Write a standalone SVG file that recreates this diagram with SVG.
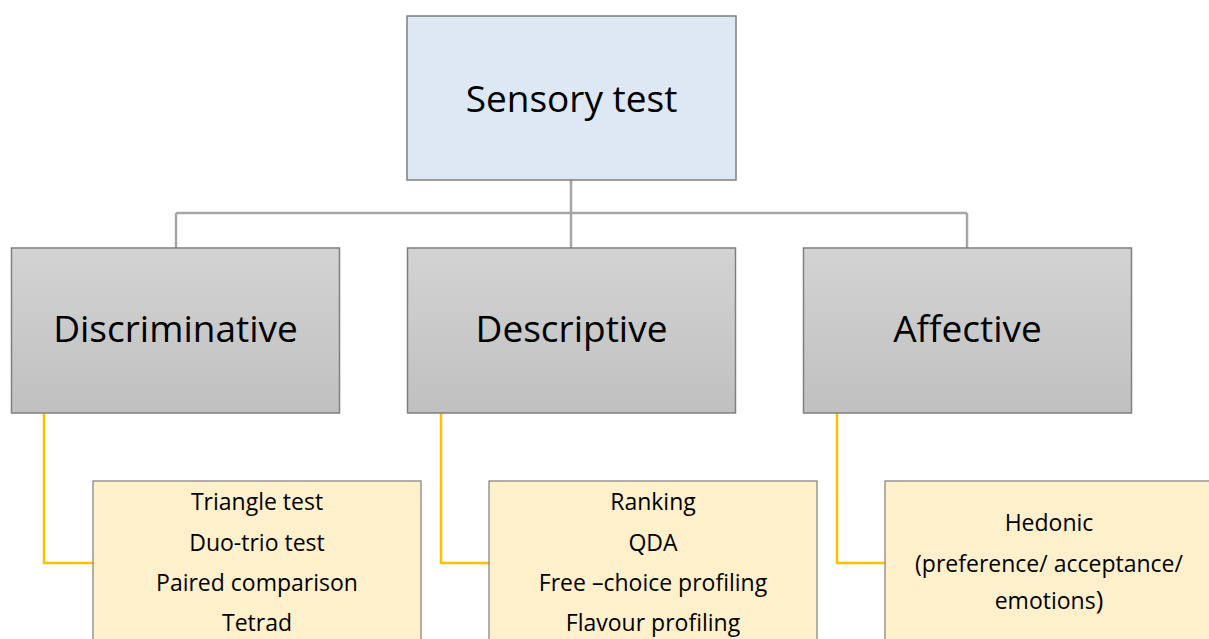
<svg xmlns="http://www.w3.org/2000/svg" width="1209" height="639" viewBox="0 0 1209 639">
<defs>
<linearGradient id="g" x1="0" y1="0" x2="0" y2="1">
<stop offset="0" stop-color="#d3d3d3"/>
<stop offset="1" stop-color="#c0c0c0"/>
</linearGradient>
<style>
.t{font-family:"Open Sans","Liberation Sans",sans-serif;fill:#000;text-anchor:middle}
.big{font-size:37px}
.small{font-size:23px}
.gray{fill:url(#g);stroke:#7f7f7f;stroke-width:1.5}
.top{fill:#dde8f4;stroke:#7f7f7f;stroke-width:1.5}
.leaf{fill:#fff0cc;stroke:#7f7f7f;stroke-width:1.2}
.cg{fill:none;stroke:#a6a6a6;stroke-width:2.5}
.cy{fill:none;stroke:#ffc000;stroke-width:2.5}
</style>
</defs>
<rect width="1209" height="639" fill="#fff"/>
<g id="connectors">
<path class="cg" d="M571,180 V213 M176,213 H967 M176,213 V248 M571,213 V248 M967,213 V248"/>
<path class="cy" d="M44,413 V563 H93"/>
<path class="cy" d="M441,413 V563 H489"/>
<path class="cy" d="M837,413 V563 H885"/>
</g>
<g id="sensory">
<rect class="top" x="407" y="16" width="329" height="164"/>
<text class="t big" x="571.5" y="112">Sensory test</text>
</g>
<g id="discriminative">
<rect class="gray" x="11.5" y="248" width="328" height="165"/>
<text class="t big" x="175.5" y="342">Discriminative</text>
</g>
<g id="descriptive">
<rect class="gray" x="407.5" y="248" width="328" height="165"/>
<text class="t big" x="571.5" y="342">Descriptive</text>
</g>
<g id="affective">
<rect class="gray" x="803.5" y="248" width="328" height="165"/>
<text class="t big" x="967.5" y="342">Affective</text>
</g>
<g id="disc-list">
<rect class="leaf" x="93" y="481" width="328" height="170"/>
<text class="t small" x="257" y="510">Triangle test</text>
<text class="t small" x="257" y="551">Duo-trio test</text>
<text class="t small" x="257" y="591">Paired comparison</text>
<text class="t small" x="257" y="631">Tetrad</text>
</g>
<g id="desc-list">
<rect class="leaf" x="489" y="481" width="328" height="170"/>
<text class="t small" x="653" y="510">Ranking</text>
<text class="t small" x="653" y="551">QDA</text>
<text class="t small" x="653" y="591">Free –choice profiling</text>
<text class="t small" x="653" y="631">Flavour profiling</text>
</g>
<g id="aff-list">
<rect class="leaf" x="885" y="481" width="340" height="170"/>
<text class="t small" x="1049" y="531">Hedonic</text>
<text class="t small" x="1049" y="572">(preference/ acceptance/</text>
<text class="t small" x="1049" y="609">emotions<tspan font-size="26px">)</tspan></text>
</g>
</svg>
